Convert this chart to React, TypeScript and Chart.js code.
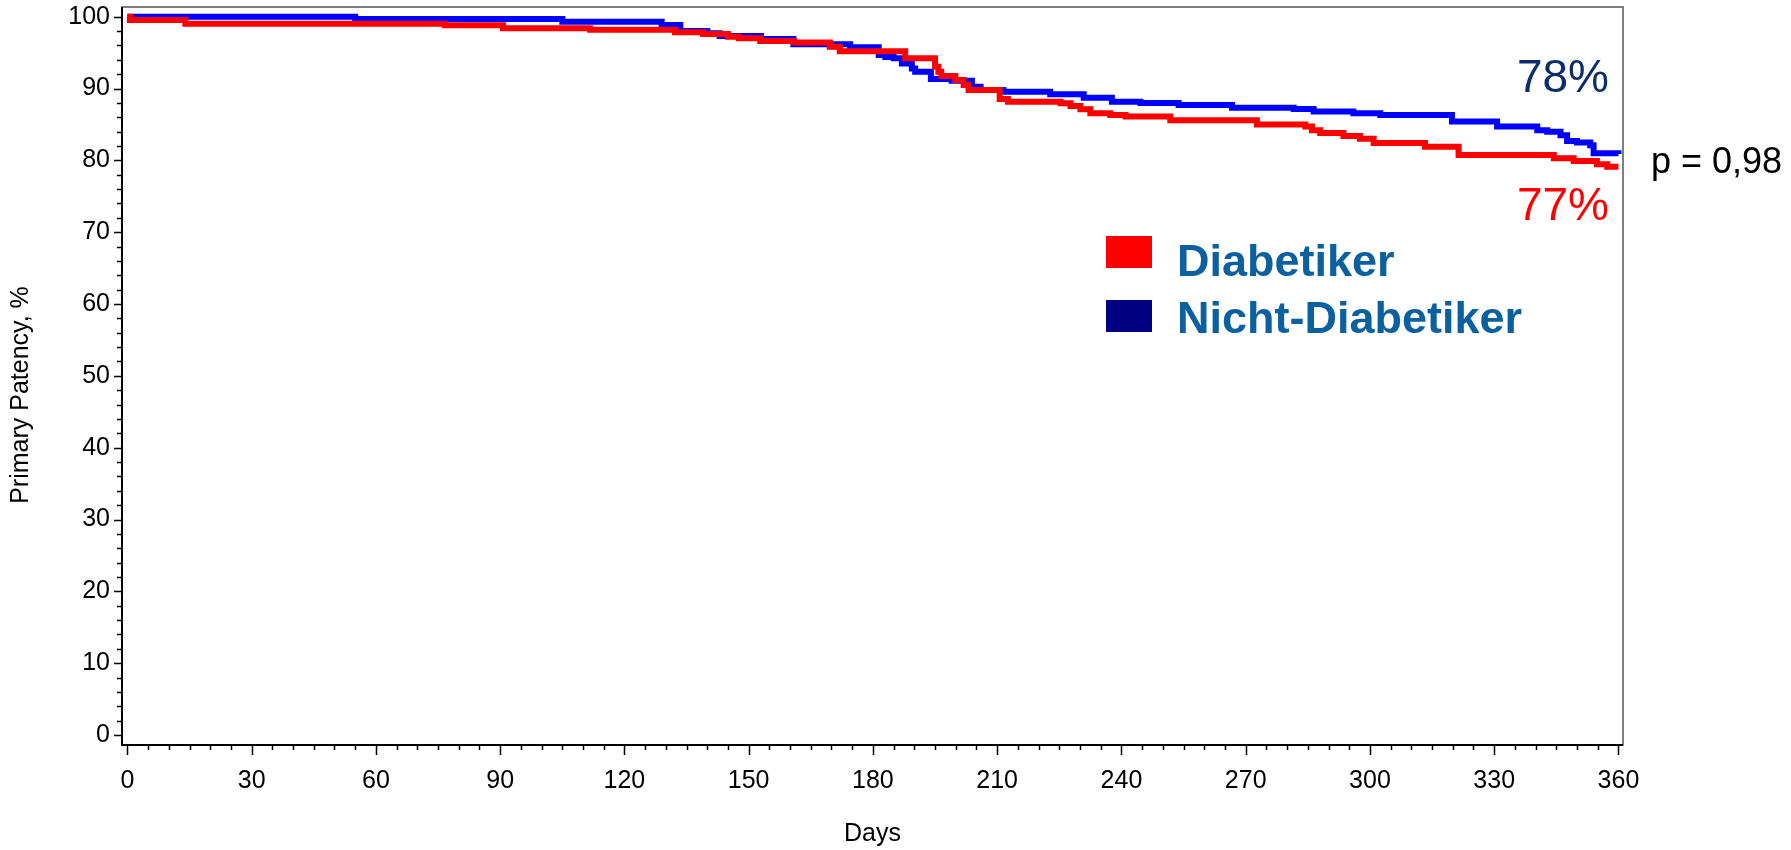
import React, { useEffect, useRef } from 'react';
import { Chart, registerables } from 'chart.js';

Chart.register(...registerables);

// ---- Data (Kaplan-Meier step points: day, primary patency %) ----
const diabetikerDays = [0, 0.6, 14, 76.7, 90.7, 111.7, 132.2, 139, 145, 147.6, 152.8, 161, 169.6, 172, 187.8, 195, 195.8, 196.5, 199.9, 201.9, 203.1, 210.6, 212.6, 225.3, 227.7, 230.1, 232.5, 237.3, 241, 251.8, 272.7, 284.4, 286, 288, 293.6, 297.6, 300.9, 313.3, 321.4, 344.4, 349.2, 354.8, 357.3, 360];
const diabetikerPatency = [100, 99.54, 99.03, 98.8, 98.38, 98.2, 97.82, 97.6, 97.2, 97.0, 96.6, 96.4, 95.8, 95.2, 94.2, 93.04, 92.34, 91.74, 91.2, 90.5, 89.8, 88.54, 88.17, 87.94, 87.57, 87.1, 86.55, 86.3, 86.1, 85.6, 85.0, 84.7, 84.2, 83.8, 83.4, 83.0, 82.4, 81.9, 80.75, 80.3, 79.9, 79.45, 79.1, 79.1];

const nichtDiabetikerDays = [0, 55, 105, 129, 133.5, 140, 143, 153, 160.8, 174.5, 181.4, 183, 185, 187, 189.4, 190.2, 194, 199, 203.9, 206, 211.5, 222.8, 230.9, 237.7, 244.6, 253.8, 266.7, 281.6, 286.4, 296, 302.5, 319.8, 330.7, 340.4, 342.8, 346, 347.6, 350, 353.2, 354, 360];
const nichtDiabetikerPatency = [100, 99.68, 99.3, 98.84, 98.0, 97.7, 97.3, 96.9, 96.15, 95.74, 94.67, 94.4, 94.2, 93.5, 92.8, 92.34, 91.33, 91.1, 90.25, 89.8, 89.56, 89.2, 88.72, 88.17, 88.0, 87.7, 87.33, 87.15, 86.8, 86.55, 86.3, 85.4, 84.7, 84.2, 84.0, 83.5, 82.7, 82.5, 82.1, 81.0, 80.9];

const xTickValues = [0, 30, 60, 90, 120, 150, 180, 210, 240, 270, 300, 330, 360];
const yTickValues = [0, 10, 20, 30, 40, 50, 60, 70, 80, 90, 100];
const xMinorStep = 5;
const yMinorStep = 2;

const seriesLabels = ['Diabetiker', 'Nicht-Diabetiker'];
const endLabels = ['77%', '78%'];
const pValueLabel = 'p = 0,98';
const xAxisTitle = 'Days';
const yAxisTitle = 'Primary Patency, %';

const FONT = '"Liberation Sans", Arial, Helvetica, sans-serif';

const overlayPlugin = {
  id: 'overlay',
  afterDraw(chart: any) {
    const { ctx, chartArea: a, scales } = chart;
    const x = scales.x;
    const y = scales.y;
    ctx.save();

    // frame
    ctx.strokeStyle = '#555';
    ctx.lineWidth = 1.5;
    ctx.strokeRect(a.left, a.top, a.right - a.left, a.bottom - a.top);
    ctx.strokeStyle = '#000';
    ctx.lineWidth = 2;
    ctx.beginPath();
    ctx.moveTo(a.left, a.top);
    ctx.lineTo(a.left, a.bottom);
    ctx.lineTo(a.right, a.bottom);
    ctx.stroke();

    // tick marks (major + minor)
    ctx.lineWidth = 1.5;
    ctx.strokeStyle = '#000';
    ctx.beginPath();
    const xMax = xTickValues[xTickValues.length - 1];
    for (let v = xTickValues[0]; v <= xMax + 1e-9; v += xMinorStep) {
      const px = Math.round(x.getPixelForValue(v)) + 0.5;
      const len = xTickValues.includes(v) ? 10 : 5;
      ctx.moveTo(px, a.bottom);
      ctx.lineTo(px, a.bottom + len);
    }
    const yMax = yTickValues[yTickValues.length - 1];
    for (let v = yTickValues[0]; v <= yMax + 1e-9; v += yMinorStep) {
      const py = Math.round(y.getPixelForValue(v)) + 0.5;
      const len = yTickValues.includes(v) ? 8 : 5;
      ctx.moveTo(a.left, py);
      ctx.lineTo(a.left - len, py);
    }
    ctx.stroke();

    // y axis title (slightly below the plot centre, as in the original)
    ctx.save();
    ctx.translate(21, (a.top + a.bottom) / 2 + 19);
    ctx.rotate(-Math.PI / 2);
    ctx.textAlign = 'center';
    ctx.textBaseline = 'middle';
    ctx.fillStyle = '#000';
    ctx.font = `25px ${FONT}`;
    ctx.fillText(yAxisTitle, 0, 0);
    ctx.restore();

    // end-of-curve percentages
    ctx.textBaseline = 'alphabetic';
    ctx.textAlign = 'right';
    ctx.font = `46px ${FONT}`;
    ctx.fillStyle = '#0d2c6b';
    ctx.fillText(endLabels[1], a.right - 14, 92);
    ctx.fillStyle = '#ff0000';
    ctx.fillText(endLabels[0], a.right - 14, 220);

    // p value
    ctx.textAlign = 'left';
    ctx.fillStyle = '#000';
    ctx.font = `36px ${FONT}`;
    ctx.fillText(pValueLabel, a.right + 28, 173);

    // legend
    ctx.fillStyle = '#ff0000';
    ctx.fillRect(1106, 236, 46, 32);
    ctx.fillStyle = '#000080';
    ctx.fillRect(1106, 300, 46, 32);
    ctx.fillStyle = '#0b609f';
    ctx.font = `bold 45px ${FONT}`;
    ctx.fillText(seriesLabels[0], 1177, 276);
    ctx.fillText(seriesLabels[1], 1177, 333);

    ctx.restore();
  },
};

export default function App() {
  const canvasRef = useRef<HTMLCanvasElement | null>(null);

  useEffect(() => {
    document.body.style.margin = '0';
    const canvas = canvasRef.current;
    if (!canvas) return;

    const chart = new Chart(canvas, {
      type: 'line',
      data: {
        datasets: [
          {
            label: seriesLabels[0],
            data: diabetikerDays.map((d, i) => ({ x: d, y: diabetikerPatency[i] })),
            borderColor: '#ff0000',
            backgroundColor: '#ff0000',
            borderWidth: 6,
            stepped: 'before',
            pointRadius: 0,
            fill: false,
          },
          {
            label: seriesLabels[1],
            data: nichtDiabetikerDays.map((d, i) => ({ x: d, y: nichtDiabetikerPatency[i] })),
            borderColor: '#0000ff',
            backgroundColor: '#0000ff',
            borderWidth: 6,
            stepped: 'before',
            pointRadius: 0,
            fill: false,
          },
        ],
      },
      options: {
        animation: false,
        responsive: false,
        maintainAspectRatio: false,
        devicePixelRatio: 1,
        layout: { padding: { left: 0, right: 168, top: 7, bottom: 0 } },
        plugins: {
          legend: { display: false },
          tooltip: { enabled: false },
        },
        scales: {
          x: {
            type: 'linear',
            min: -1.3,
            max: 361.1,
            afterBuildTicks: (s: any) => {
              s.ticks = xTickValues.map((v) => ({ value: v }));
            },
            afterFit: (s: any) => {
              s.height = 105;
              s.paddingLeft = 0;
              s.paddingRight = 0;
              s.paddingTop = 0;
              s.paddingBottom = 0;
            },
            grid: { display: false, drawTicks: false },
            border: { display: false },
            ticks: {
              autoSkip: false,
              maxRotation: 0,
              padding: 21,
              color: '#000',
              font: { family: FONT, size: 25 },
            },
            title: {
              display: true,
              text: xAxisTitle,
              color: '#000',
              font: { family: FONT, size: 25 },
              padding: { top: 0, bottom: 1 },
            },
          },
          y: {
            type: 'linear',
            min: -1.39,
            max: 101.35,
            afterBuildTicks: (s: any) => {
              s.ticks = yTickValues.map((v) => ({ value: v }));
            },
            afterFit: (s: any) => {
              s.width = 122;
              s.paddingLeft = 0;
              s.paddingRight = 0;
              s.paddingTop = 0;
              s.paddingBottom = 0;
            },
            grid: { display: false, drawTicks: false },
            border: { display: false },
            ticks: {
              autoSkip: false,
              padding: 12,
              color: '#000',
              font: { family: FONT, size: 25 },
            },
            title: { display: false, text: yAxisTitle },
          },
        },
      },
      plugins: [overlayPlugin],
    });

    return () => {
      chart.destroy();
    };
  }, []);

  return (
    <div style={{ position: 'absolute', left: 0, top: 0, width: 1791, height: 850, background: '#fff' }}>
      <canvas ref={canvasRef} width={1791} height={850} style={{ display: 'block', width: 1791, height: 850 }} />
    </div>
  );
}
